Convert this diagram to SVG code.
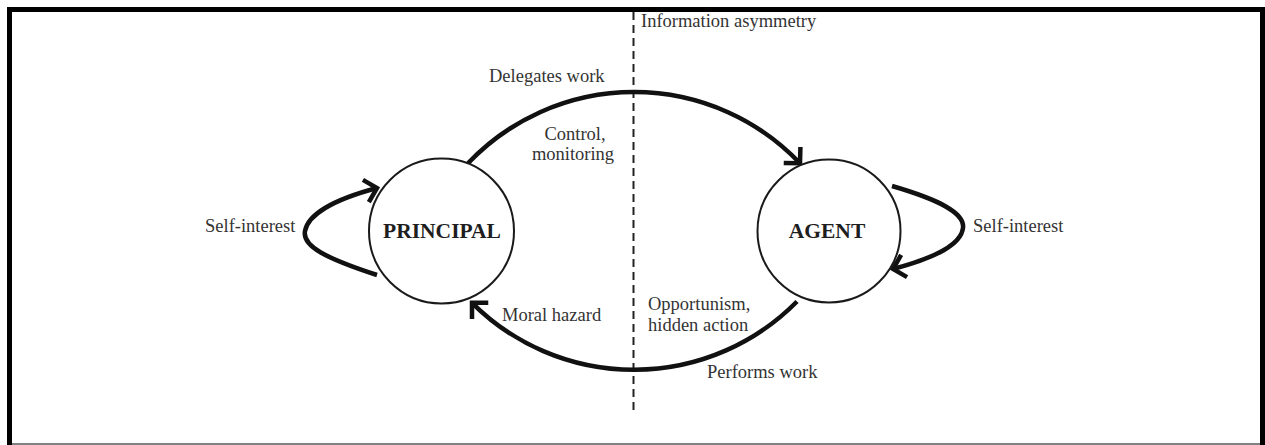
<svg xmlns="http://www.w3.org/2000/svg" width="1265" height="445" viewBox="0 0 1265 445">
  <style>
    .label { font-family: "Liberation Serif", "DejaVu Serif", serif; font-size: 18.5px; fill: #333333; }
    .title { font-family: "Liberation Serif", "DejaVu Serif", serif; font-size: 21.5px; font-weight: bold; fill: #1e1e1e; }
    .node { fill: #ffffff; stroke: #1a1a1a; stroke-width: 2; }
    .flow { fill: none; stroke: #111111; stroke-width: 4.5; stroke-linecap: butt; }
    .divider { fill: none; stroke: #222222; stroke-width: 2; stroke-dasharray: 8 5; }
  </style>
  <defs>
    <marker id="chevron" markerUnits="userSpaceOnUse" markerWidth="30" markerHeight="30" viewBox="-16 -15 20 30" refX="0" refY="0" orient="auto" overflow="visible">
      <path d="M -11.5 -11.5 L 0 0 L -11.5 11.5" fill="none" stroke="#111111" stroke-width="4.5" stroke-linejoin="miter"/>
    </marker>
  </defs>

  <!-- frame -->
  <g id="frame">
    <rect x="7" y="7" width="1258" height="438" fill="#000000"/>
    <rect x="12" y="12" width="1248" height="431.5" fill="#ffffff"/>
    <rect x="12" y="443.5" width="1248" height="1.5" fill="#808080"/>
  </g>

  <!-- information asymmetry divider -->
  <g id="divider">
    <line class="divider" x1="633.5" y1="12" x2="633.5" y2="412"/>
    <text class="label" x="641" y="27">Information asymmetry</text>
  </g>

  <!-- connectors -->
  <g id="connectors">
    <!-- delegates work: principal to agent -->
    <path class="flow" d="M 468 163.3 A 229 229 0 0 1 800 163.3" marker-end="url(#chevron)"/>
    <!-- performs work: agent to principal -->
    <path class="flow" d="M 797 301.5 A 229 229 0 0 1 472 302.8" marker-end="url(#chevron)"/>
    <!-- principal self-interest loop -->
    <path class="flow" d="M 377 275 C 325 258, 302 246, 305 231 C 308 215, 332 200, 377 188" marker-end="url(#chevron)"/>
    <!-- agent self-interest loop -->
    <path class="flow" d="M 892 186 C 940 200, 965 213, 963 228 C 961 244, 938 257, 893 269" marker-end="url(#chevron)"/>
  </g>

  <g id="principal">
    <circle class="node" cx="441.5" cy="231" r="72.5"/>
    <text class="title" x="442" y="238" text-anchor="middle">PRINCIPAL</text>
  </g>

  <g id="agent">
    <circle class="node" cx="829" cy="231" r="71.5"/>
    <text class="title" x="827" y="238" text-anchor="middle">AGENT</text>
  </g>

  <g id="labels">
    <text class="label" x="489" y="82">Delegates work</text>
    <text class="label" x="575" y="140" text-anchor="middle">Control,</text>
    <text class="label" x="573" y="160" text-anchor="middle">monitoring</text>
    <text class="label" x="205" y="232">Self-interest</text>
    <text class="label" x="973" y="232">Self-interest</text>
    <text class="label" x="502" y="321">Moral hazard</text>
    <text class="label" x="648" y="310">Opportunism,</text>
    <text class="label" x="648" y="331">hidden action</text>
    <text class="label" x="707" y="378">Performs work</text>
  </g>
</svg>
